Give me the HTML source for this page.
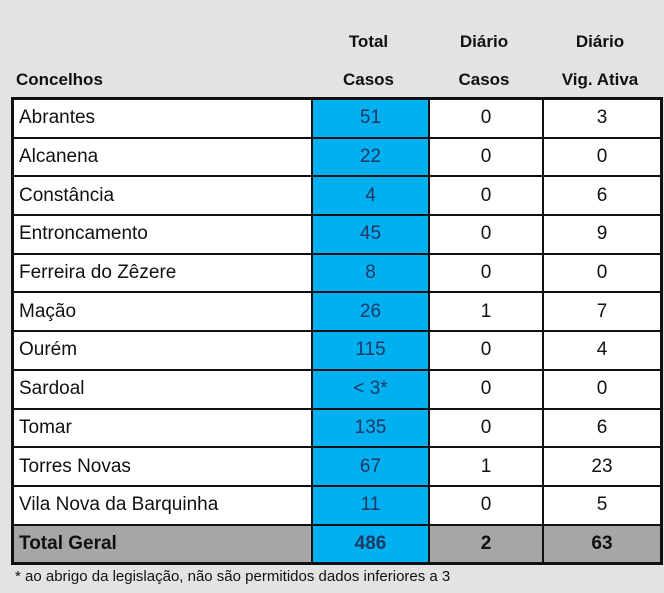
<!DOCTYPE html>
<html><head><meta charset="utf-8"><style>
body{margin:0;width:664px;height:593px;background:#e3e3e3;font-family:"Liberation Sans",sans-serif;position:relative;overflow:hidden;color:#111}
.h{position:absolute;font-weight:bold;font-size:17px;text-align:center}
table{position:absolute;left:11px;top:97px;border-collapse:collapse;border:3px solid #111}
td{border:2px solid #111;height:36.7px;padding:0;font-size:19px;text-align:center;background:#fff}
td.n{text-align:left;padding-left:5px;width:292px}
td.b{background:#00b0f0;color:#1f3864;width:115px}
td.c{width:112px}
td.d{width:116px}
tr.t td{background:#a6a6a6;font-weight:bold}
tr.t td.b{background:#00b0f0}
.f{position:absolute;left:15px;top:568px;font-size:15px}
</style></head><body>
<div class="h" style="left:310px;top:23px;width:117px;line-height:38px">Total<br>Casos</div>
<div class="h" style="left:427px;top:23px;width:114px;line-height:38px">Diário<br>Casos</div>
<div class="h" style="left:541px;top:23px;width:118px;line-height:38px">Diário<br>Vig. Ativa</div>
<div class="h" style="left:16px;top:70px;text-align:left">Concelhos</div>
<table>
<tr><td class="n">Abrantes</td><td class="b">51</td><td class="c">0</td><td class="d">3</td></tr>
<tr><td class="n">Alcanena</td><td class="b">22</td><td class="c">0</td><td class="d">0</td></tr>
<tr><td class="n">Constância</td><td class="b">4</td><td class="c">0</td><td class="d">6</td></tr>
<tr><td class="n">Entroncamento</td><td class="b">45</td><td class="c">0</td><td class="d">9</td></tr>
<tr><td class="n">Ferreira do Zêzere</td><td class="b">8</td><td class="c">0</td><td class="d">0</td></tr>
<tr><td class="n">Mação</td><td class="b">26</td><td class="c">1</td><td class="d">7</td></tr>
<tr><td class="n">Ourém</td><td class="b">115</td><td class="c">0</td><td class="d">4</td></tr>
<tr><td class="n">Sardoal</td><td class="b">&lt; 3*</td><td class="c">0</td><td class="d">0</td></tr>
<tr><td class="n">Tomar</td><td class="b">135</td><td class="c">0</td><td class="d">6</td></tr>
<tr><td class="n">Torres Novas</td><td class="b">67</td><td class="c">1</td><td class="d">23</td></tr>
<tr><td class="n">Vila Nova da Barquinha</td><td class="b">11</td><td class="c">0</td><td class="d">5</td></tr>
<tr class="t"><td class="n">Total Geral</td><td class="b">486</td><td class="c">2</td><td class="d">63</td></tr>
</table>
<div class="f">* ao abrigo da legislação, não são permitidos dados inferiores a 3</div>
</body></html>
